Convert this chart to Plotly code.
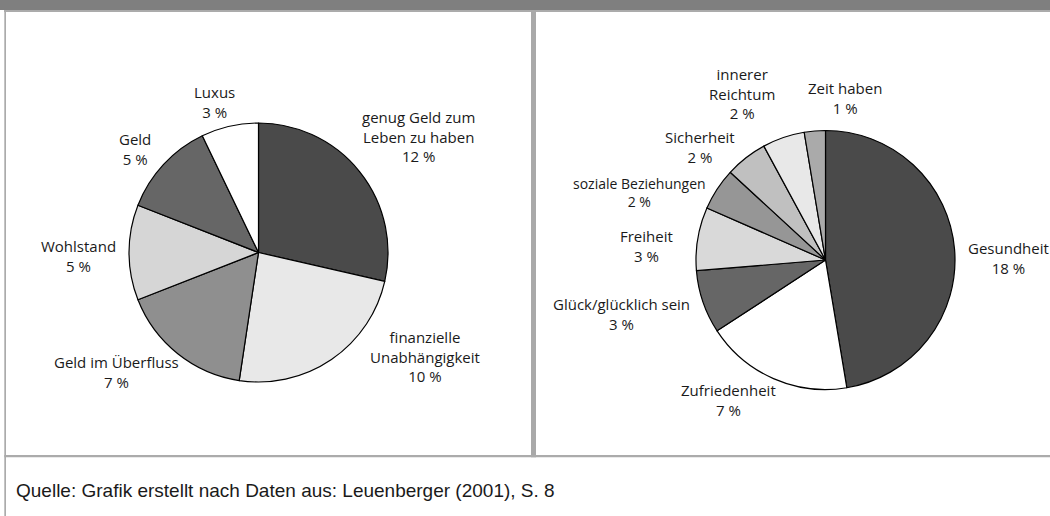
import plotly.graph_objects as go

W, H = 1050, 516

# ---- data ----
left_categories = ["genug Geld zum Leben zu haben", "finanzielle Unabhängigkeit",
                   "Geld im Überfluss", "Wohlstand", "Geld", "Luxus"]
left_values = [12, 10, 7, 5, 5, 3]
left_display = ["genug Geld zum<br>Leben zu haben", "finanzielle<br>Unabhängigkeit",
                "Geld im Überfluss", "Wohlstand", "Geld", "Luxus"]

right_categories = ["Gesundheit", "Zufriedenheit", "Glück/glücklich sein", "Freiheit",
                    "soziale Beziehungen", "Sicherheit", "innerer Reichtum", "Zeit haben"]
right_values = [18, 7, 3, 3, 2, 2, 2, 1]
right_display = ["Gesundheit", "Zufriedenheit", "Glück/glücklich sein", "Freiheit",
                 "soziale Beziehungen", "Sicherheit", "innerer<br>Reichtum", "Zeit haben"]

source_text = "Quelle: Grafik erstellt nach Daten aus: Leuenberger (2001), S. 8"

# ---- styles ----
left_colors = ["#4a4a4a", "#e8e8e8", "#8f8f8f", "#d6d6d6", "#666666", "#ffffff"]
right_colors = ["#4a4a4a", "#ffffff", "#666666", "#d9d9d9", "#969696", "#c0c0c0", "#e8e8e8", "#aaaaaa"]

# label block positions in pixels (center x, center y, font size, align)
left_label_pos = [(418, 136, 15, "center"), (425, 356, 15, "center"), (116, 372, 15, "center"),
                  (78, 256, 15, "center"), (135, 149, 15, "center"), (214, 102, 15, "center")]
right_label_pos = [(1008, 258, 15, "center"), (728, 400, 15, "center"), (621, 314, 15, "center"),
                   (646, 246, 15, "center"), (639, 192, 14, "center"), (700, 147, 15, "center"),
                   (742, 93, 15, "center"), (845, 98, 15, "center")]


def px(x):
    return x / W


def py(y):
    return 1 - y / H


def pie_domain(cx, cy, r):
    return dict(x=[px(cx - r), px(cx + r)], y=[py(cy + r), py(cy - r)])


fig = go.Figure()
fig.add_trace(go.Pie(
    labels=left_categories, values=left_values, sort=False, direction="clockwise",
    rotation=0, textinfo="none", hoverinfo="label+value",
    marker=dict(colors=left_colors, line=dict(color="#000000", width=1.2)),
    domain=pie_domain(258.5, 252.5, 129.5), showlegend=False,
))
fig.add_trace(go.Pie(
    labels=right_categories, values=right_values, sort=False, direction="clockwise",
    rotation=0, textinfo="none", hoverinfo="label+value",
    marker=dict(colors=right_colors, line=dict(color="#000000", width=1.2)),
    domain=pie_domain(825.5, 260, 129.5), showlegend=False,
))

annotations = []
for disp, val, (x, y, fs, al) in list(zip(left_display, left_values, left_label_pos)) + \
        list(zip(right_display, right_values, right_label_pos)):
    annotations.append(dict(
        x=px(x), y=py(y), xref="paper", yref="paper", xanchor="center", yanchor="middle",
        text=f"{disp}<br>{val} %", showarrow=False, align=al,
        font=dict(family="Open Sans, sans-serif", size=fs, color="#1a1a1a"),
    ))
annotations.append(dict(
    x=px(14), y=py(490), xref="paper", yref="paper", xanchor="left", yanchor="middle",
    text=source_text, showarrow=False,
    font=dict(family="Liberation Sans, Arial, sans-serif", size=19, color="#1a1a1a"),
))

border = "#ababab"
shapes = [
    dict(type="rect", xref="paper", yref="paper", x0=0, x1=1, y0=py(10), y1=1,
         fillcolor="#7f7f7f", line=dict(width=0), layer="below"),
    dict(type="rect", xref="paper", yref="paper", x0=px(4), x1=1, y0=py(12), y1=py(10),
         fillcolor=border, line=dict(width=0), layer="below"),
    dict(type="rect", xref="paper", yref="paper", x0=px(4.3), x1=px(6), y0=0, y1=py(10),
         fillcolor=border, line=dict(width=0), layer="below"),
    dict(type="rect", xref="paper", yref="paper", x0=px(531), x1=px(536), y0=py(457.3), y1=py(10),
         fillcolor="#a9a9a9", line=dict(width=0), layer="below"),
    dict(type="rect", xref="paper", yref="paper", x0=px(4.3), x1=1, y0=py(457.3), y1=py(455),
         fillcolor=border, line=dict(width=0), layer="below"),
]

fig.update_layout(
    width=W, height=H, margin=dict(l=0, r=0, t=0, b=0),
    paper_bgcolor="#ffffff", plot_bgcolor="#ffffff",
    annotations=annotations, shapes=shapes, showlegend=False,
)

fig.write_html(
    "out.html",
    config={"displayModeBar": False},
    post_script="document.documentElement.style.overflow='hidden';"
                "document.documentElement.style.margin='0';"
                "document.body.style.margin='0';document.body.style.padding='0';"
                "document.body.style.overflow='hidden';",
)
